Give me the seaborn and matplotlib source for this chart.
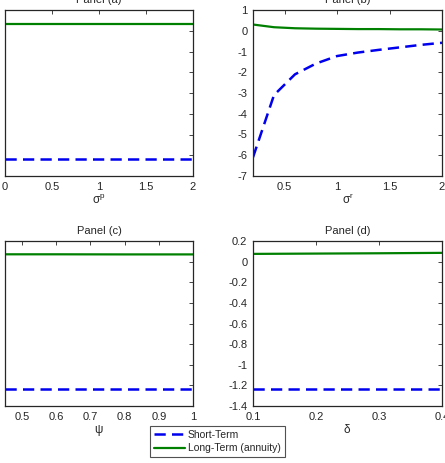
import numpy as np
import pandas as pd
import matplotlib
matplotlib.use("Agg")
import matplotlib.pyplot as plt
import seaborn as sns
from matplotlib.ticker import FormatStrFormatter

# values
sigma_p = [0.0, 0.5, 1.0, 1.5, 2.0]
short_a = [-1.24, -1.24, -1.24, -1.24, -1.24]
long_a = [0.065, 0.065, 0.065, 0.065, 0.065]

sigma_r = [0.2, 0.4, 0.6, 0.8, 1.0, 1.2, 1.4, 1.6, 1.8, 2.0]
short_b = [-6.1, -3.1, -2.1, -1.58, -1.22, -1.05, -0.92, -0.8, -0.68, -0.58]
long_b = [0.3, 0.17, 0.12, 0.1, 0.09, 0.08, 0.08, 0.07, 0.07, 0.06]

psi = [0.45, 0.6, 0.8, 1.0]
short_c = [-1.235, -1.235, -1.235, -1.235]
long_c = [0.071, 0.071, 0.07, 0.07]

delta = [0.1, 0.2, 0.3, 0.4]
short_d = [-1.235, -1.235, -1.235, -1.235]
long_d = [0.075, 0.078, 0.081, 0.085]

xticks_a = [0, 0.5, 1, 1.5, 2]
xticks_b = [0.5, 1, 1.5, 2]
xticks_c = [0.5, 0.6, 0.7, 0.8, 0.9, 1.0]
xticks_d = [0.1, 0.2, 0.3, 0.4]
yticks_small = [-1.4, -1.2, -1.0, -0.8, -0.6, -0.4, -0.2, 0.0, 0.2]
yticks_b = [-7, -6, -5, -4, -3, -2, -1, 0, 1]

series = ['Short-Term', 'Long-Term (annuity)']
colors = {'Short-Term': '#0000ee', 'Long-Term (annuity)': '#008000'}

sns.set_style("white")
plt.rcParams['font.family'] = ['Liberation Sans', 'DejaVu Sans']
plt.rcParams['axes.unicode_minus'] = False
plt.rcParams['mathtext.default'] = 'regular'
plt.rcParams['font.size'] = 8

fig = plt.figure(figsize=(4.45, 4.63), dpi=100)
W, H = 445, 463


def make_ax(x0, x1, y0, y1):
    return fig.add_axes([x0 / W, 1 - y1 / H, (x1 - x0) / W, (y1 - y0) / H])


panels = [
    (make_ax(5, 193, 10, 176), sigma_p, short_a, long_a, 'Panel (a)', r'$\sigma^p$', (0, 2), xticks_a, (-1.4, 0.2), yticks_small),
    (make_ax(253, 442, 10, 176), sigma_r, short_b, long_b, 'Panel (b)', r'$\sigma^r$', (0.2, 2), xticks_b, (-7, 1), yticks_b),
    (make_ax(5, 193, 241, 406), psi, short_c, long_c, 'Panel (c)', r'$\psi$', (0.45, 1), xticks_c, (-1.4, 0.2), yticks_small),
    (make_ax(253, 442, 241, 406), delta, short_d, long_d, 'Panel (d)', r'$\delta$', (0.1, 0.4), xticks_d, (-1.4, 0.2), yticks_small),
]

for ax, x, s, l, title, xlabel, xlim, xt, ylim, yt in panels:
    df = pd.DataFrame({'x': list(x) * 2, 'y': list(s) + list(l),
                       'Series': ['Short-Term'] * len(x) + ['Long-Term (annuity)'] * len(x)})
    sns.lineplot(data=df, x='x', y='y', hue='Series', style='Series', hue_order=series,
                 style_order=series, palette=colors, dashes={'Short-Term': (4.5, 2.5), 'Long-Term (annuity)': ''},
                 ax=ax, legend=False, estimator=None, sort=False)
    ax.lines[0].set_linewidth(1.8)
    ax.lines[1].set_linewidth(1.6)
    ax.set_xlim(*xlim)
    ax.set_ylim(*ylim)
    ax.set_xticks(xt)
    ax.set_yticks(yt)
    ax.xaxis.set_major_formatter(FormatStrFormatter('%g'))
    ax.yaxis.set_major_formatter(FormatStrFormatter('%g'))
    ax.tick_params(direction='in', length=3, width=0.6, top=True, right=True,
                   labelsize=8, colors='#262626', pad=4)
    ax.set_title(title, fontsize=8, pad=5, color='#262626')
    ax.set_xlabel(xlabel, fontsize=8.5, labelpad=1, color='#262626')
    ax.set_ylabel('')
    for sp in ax.spines.values():
        sp.set_color('#262626')
        sp.set_linewidth(0.9)

ax0 = panels[0][0]
handles = [ax0.lines[0], ax0.lines[1]]
leg = fig.legend(handles, series, loc='upper left', bbox_to_anchor=(150 / W, 1 - 426 / H),
                 frameon=True, fancybox=False, fontsize=7.5, handlelength=3.0,
                 handletextpad=0.3, borderpad=0.35, labelspacing=0.35, borderaxespad=0)
leg.get_frame().set_edgecolor('#262626')
leg.get_frame().set_linewidth(0.8)

fig.savefig('out.png', dpi=100)
